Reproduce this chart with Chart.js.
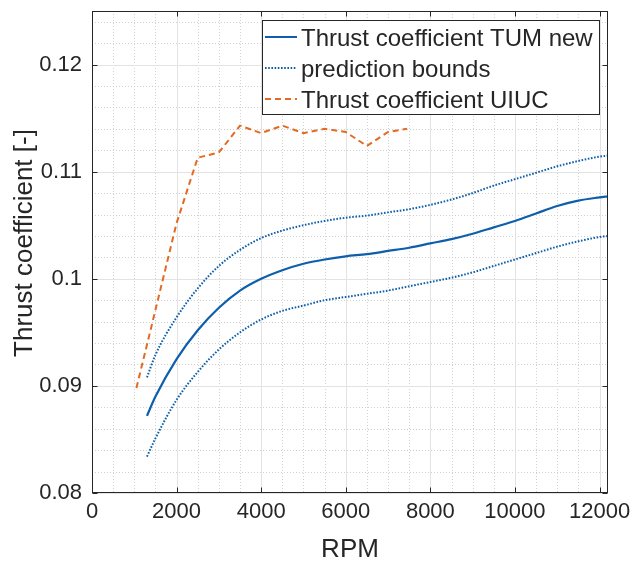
<!DOCTYPE html>
<html>
<head>
<meta charset="utf-8">
<script src="https://cdn.jsdelivr.net/npm/chart.js@4"></script>
<style>
  html, body { margin: 0; padding: 0; background: #fff; }
  #wrap { width: 633px; height: 563px; }
</style>
</head>
<body>
<div id="wrap"><canvas id="chart-thrust" width="633" height="563"></canvas></div>
<script>
// Courbe TUM (fit) + bornes de prediction, RPM
const rpmTum = [1300, 1500, 2000, 2500, 3000, 3500, 4000, 4500, 5000, 5500, 6000, 6500,
                7000, 7500, 8000, 8500, 9000, 9500, 10000, 10500, 11000, 11500, 12000, 12200];
const ctTum = [0.0872, 0.0890, 0.0925, 0.0952, 0.0973, 0.0989, 0.1000, 0.1008, 0.1014, 0.1018, 0.1021, 0.1023,
               0.1026, 0.1029, 0.1033, 0.1037, 0.1042, 0.1048, 0.1054, 0.1061, 0.1068, 0.1073, 0.1076, 0.1077];
const ctUpper = [0.0908, 0.0929, 0.0964, 0.0991, 0.1012, 0.1027, 0.1038, 0.1045, 0.1050, 0.1054, 0.1057, 0.1059,
                 0.1062, 0.1065, 0.1069, 0.1074, 0.1080, 0.1087, 0.1093, 0.1099, 0.1105, 0.1110, 0.1114, 0.1115];
const ctLower = [0.0834, 0.0851, 0.0887, 0.0913, 0.0934, 0.0950, 0.0962, 0.0970, 0.0975, 0.0980, 0.0983, 0.0986,
                 0.0989, 0.0993, 0.0997, 0.1001, 0.1006, 0.1012, 0.1018, 0.1024, 0.1030, 0.1035, 0.1039, 0.1040];

// Donnees UIUC
const rpmUiuc = [1050, 2000, 2500, 3000, 3500, 4000, 4500, 5000, 5500, 6000, 6500, 7000, 7450];
const ctUiuc = [0.0898, 0.1052, 0.1113, 0.1118, 0.1143, 0.1136, 0.1143, 0.1136, 0.1140, 0.1137, 0.1124, 0.1137, 0.1140];

// Graduations
const xTicks = [0, 2000, 4000, 6000, 8000, 10000, 12000];
const yTicks = [0.08, 0.09, 0.1, 0.11, 0.12];
const xMinorStep = 500;
const yMinorStep = 0.002;

const legendLabels = ['Thrust coefficient TUM new', 'prediction bounds', 'Thrust coefficient UIUC'];

const BLEU = '#0e5fab';
const ORANGE = '#e26a22';
const TEXTE = '#262626';
const POLICE = '"Liberation Sans", Arial, Helvetica, sans-serif';

const pts = (xs, ys) => xs.map((x, i) => ({ x: x, y: ys[i] }));

// Grille, cadre, ticks interieurs et legende facon MATLAB
const matlabAxes = {
    id: 'matlabAxes',
    beforeDatasetsDraw(chart) {
        const { ctx, chartArea: a, scales: { x, y } } = chart;
        ctx.save();
        // grille mineure pointillee
        ctx.strokeStyle = '#d0d0d0';
        ctx.lineWidth = 1;
        ctx.setLineDash([1, 2]);
        for (let v = x.min; v <= x.max; v += xMinorStep) {
            if (v % 2000 === 0) continue;
            const px = Math.round(x.getPixelForValue(v)) + 0.5;
            ctx.beginPath(); ctx.moveTo(px, a.top); ctx.lineTo(px, a.bottom); ctx.stroke();
        }
        for (let k = 0; k * yMinorStep <= 0.0451; k++) {
            const v = 0.08 + k * yMinorStep;
            if (k % 5 === 0) continue;
            const py = Math.round(y.getPixelForValue(v)) + 0.5;
            ctx.beginPath(); ctx.moveTo(a.left, py); ctx.lineTo(a.right, py); ctx.stroke();
        }
        // grille majeure
        ctx.setLineDash([]);
        ctx.strokeStyle = '#e3e3e3';
        xTicks.forEach(v => {
            const px = Math.round(x.getPixelForValue(v)) + 0.5;
            ctx.beginPath(); ctx.moveTo(px, a.top); ctx.lineTo(px, a.bottom); ctx.stroke();
        });
        yTicks.forEach(v => {
            const py = Math.round(y.getPixelForValue(v)) + 0.5;
            ctx.beginPath(); ctx.moveTo(a.left, py); ctx.lineTo(a.right, py); ctx.stroke();
        });
        ctx.restore();
    },
    afterDatasetsDraw(chart) {
        const { ctx, chartArea: a, scales: { x, y } } = chart;
        ctx.save();
        ctx.strokeStyle = TEXTE;
        ctx.lineWidth = 1;
        const L = Math.round(a.left) + 0.5, R = Math.round(a.right) - 0.5;
        const T = Math.round(a.top) + 0.5, B = Math.round(a.bottom) - 0.5;
        ctx.strokeRect(L, T, R - L, B - T);
        const tl = 5;
        xTicks.forEach(v => {
            const px = Math.round(x.getPixelForValue(v)) + 0.5;
            ctx.beginPath();
            ctx.moveTo(px, B); ctx.lineTo(px, B - tl);
            ctx.moveTo(px, T); ctx.lineTo(px, T + tl);
            ctx.stroke();
        });
        yTicks.forEach(v => {
            const py = Math.round(y.getPixelForValue(v)) + 0.5;
            ctx.beginPath();
            ctx.moveTo(L, py); ctx.lineTo(L + tl, py);
            ctx.moveTo(R, py); ctx.lineTo(R - tl, py);
            ctx.stroke();
        });

        // titres d'axes
        ctx.fillStyle = TEXTE;
        ctx.font = '26px ' + POLICE;
        ctx.textAlign = 'center';
        ctx.textBaseline = 'alphabetic';
        ctx.fillText('RPM', (a.left + a.right) / 2, 557);
        ctx.save();
        ctx.translate(32, 243);
        ctx.rotate(-Math.PI / 2);
        ctx.fillText('Thrust coefficient [-]', 0, 0);
        ctx.restore();

        // legende
        const bx = 262.5, by = 20.5, bw = 337, bh = 94;
        ctx.fillStyle = '#fff';
        ctx.fillRect(bx, by, bw, bh);
        ctx.strokeStyle = TEXTE;
        ctx.strokeRect(bx, by, bw, bh);
        const styles = [
            { color: BLEU, dash: [], width: 2 },
            { color: BLEU, dash: [1.6, 1.6], width: 2 },
            { color: ORANGE, dash: [6, 4], width: 2 }
        ];
        ctx.font = '24px ' + POLICE;
        ctx.textAlign = 'left';
        legendLabels.forEach((lab, i) => {
            const cy = 37 + i * 31;
            ctx.save();
            ctx.strokeStyle = styles[i].color;
            ctx.lineWidth = styles[i].width;
            ctx.setLineDash(styles[i].dash);
            ctx.beginPath(); ctx.moveTo(265, cy); ctx.lineTo(297, cy); ctx.stroke();
            ctx.restore();
            ctx.fillStyle = TEXTE;
            ctx.fillText(lab, 301, cy + 9);
        });
        ctx.restore();
    }
};

const ctx = document.getElementById('chart-thrust').getContext('2d');
new Chart(ctx, {
    type: 'line',
    data: {
        datasets: [
            {
                label: legendLabels[0],
                data: pts(rpmTum, ctTum),
                borderColor: BLEU,
                borderWidth: 2.2,
                pointRadius: 0,
                cubicInterpolationMode: 'monotone'
            },
            {
                label: legendLabels[1],
                data: pts(rpmTum, ctUpper),
                borderColor: BLEU,
                borderWidth: 2,
                borderDash: [1.6, 1.6],
                pointRadius: 0,
                cubicInterpolationMode: 'monotone'
            },
            {
                label: legendLabels[1] + ' (inf)',
                data: pts(rpmTum, ctLower),
                borderColor: BLEU,
                borderWidth: 2,
                borderDash: [1.6, 1.6],
                pointRadius: 0,
                cubicInterpolationMode: 'monotone'
            },
            {
                label: legendLabels[2],
                data: pts(rpmUiuc, ctUiuc),
                borderColor: ORANGE,
                borderWidth: 2,
                borderDash: [6, 4],
                pointRadius: 0,
                tension: 0
            }
        ]
    },
    options: {
        responsive: false,
        animation: false,
        layout: { autoPadding: false, padding: { left: 0, top: 11, right: 25, bottom: 0 } },
        plugins: { legend: { display: false }, tooltip: { enabled: false } },
        scales: {
            x: {
                type: 'linear',
                min: 0,
                max: 12200,
                grid: { display: false, drawTicks: false },
                border: { display: false },
                afterFit: s => { s.height = 70; s.paddingLeft = 0; s.paddingRight = 0; },
                afterBuildTicks: s => { s.ticks = xTicks.map(v => ({ value: v })); },
                ticks: {
                    color: TEXTE,
                    font: { family: POLICE, size: 22 },
                    padding: 6,
                    maxRotation: 0,
                    autoSkip: false,
                    callback: v => String(v)
                }
            },
            y: {
                type: 'linear',
                min: 0.08,
                max: 0.125,
                grid: { display: false, drawTicks: false },
                border: { display: false },
                afterFit: s => { s.width = 92; s.paddingTop = 0; s.paddingBottom = 0; },
                afterBuildTicks: s => { s.ticks = yTicks.map(v => ({ value: v })); },
                ticks: {
                    color: TEXTE,
                    font: { family: POLICE, size: 22 },
                    padding: 10,
                    autoSkip: false,
                    callback: v => String(Number(v.toFixed(3)))
                }
            }
        }
    },
    plugins: [matlabAxes]
});
</script>
</body>
</html>
